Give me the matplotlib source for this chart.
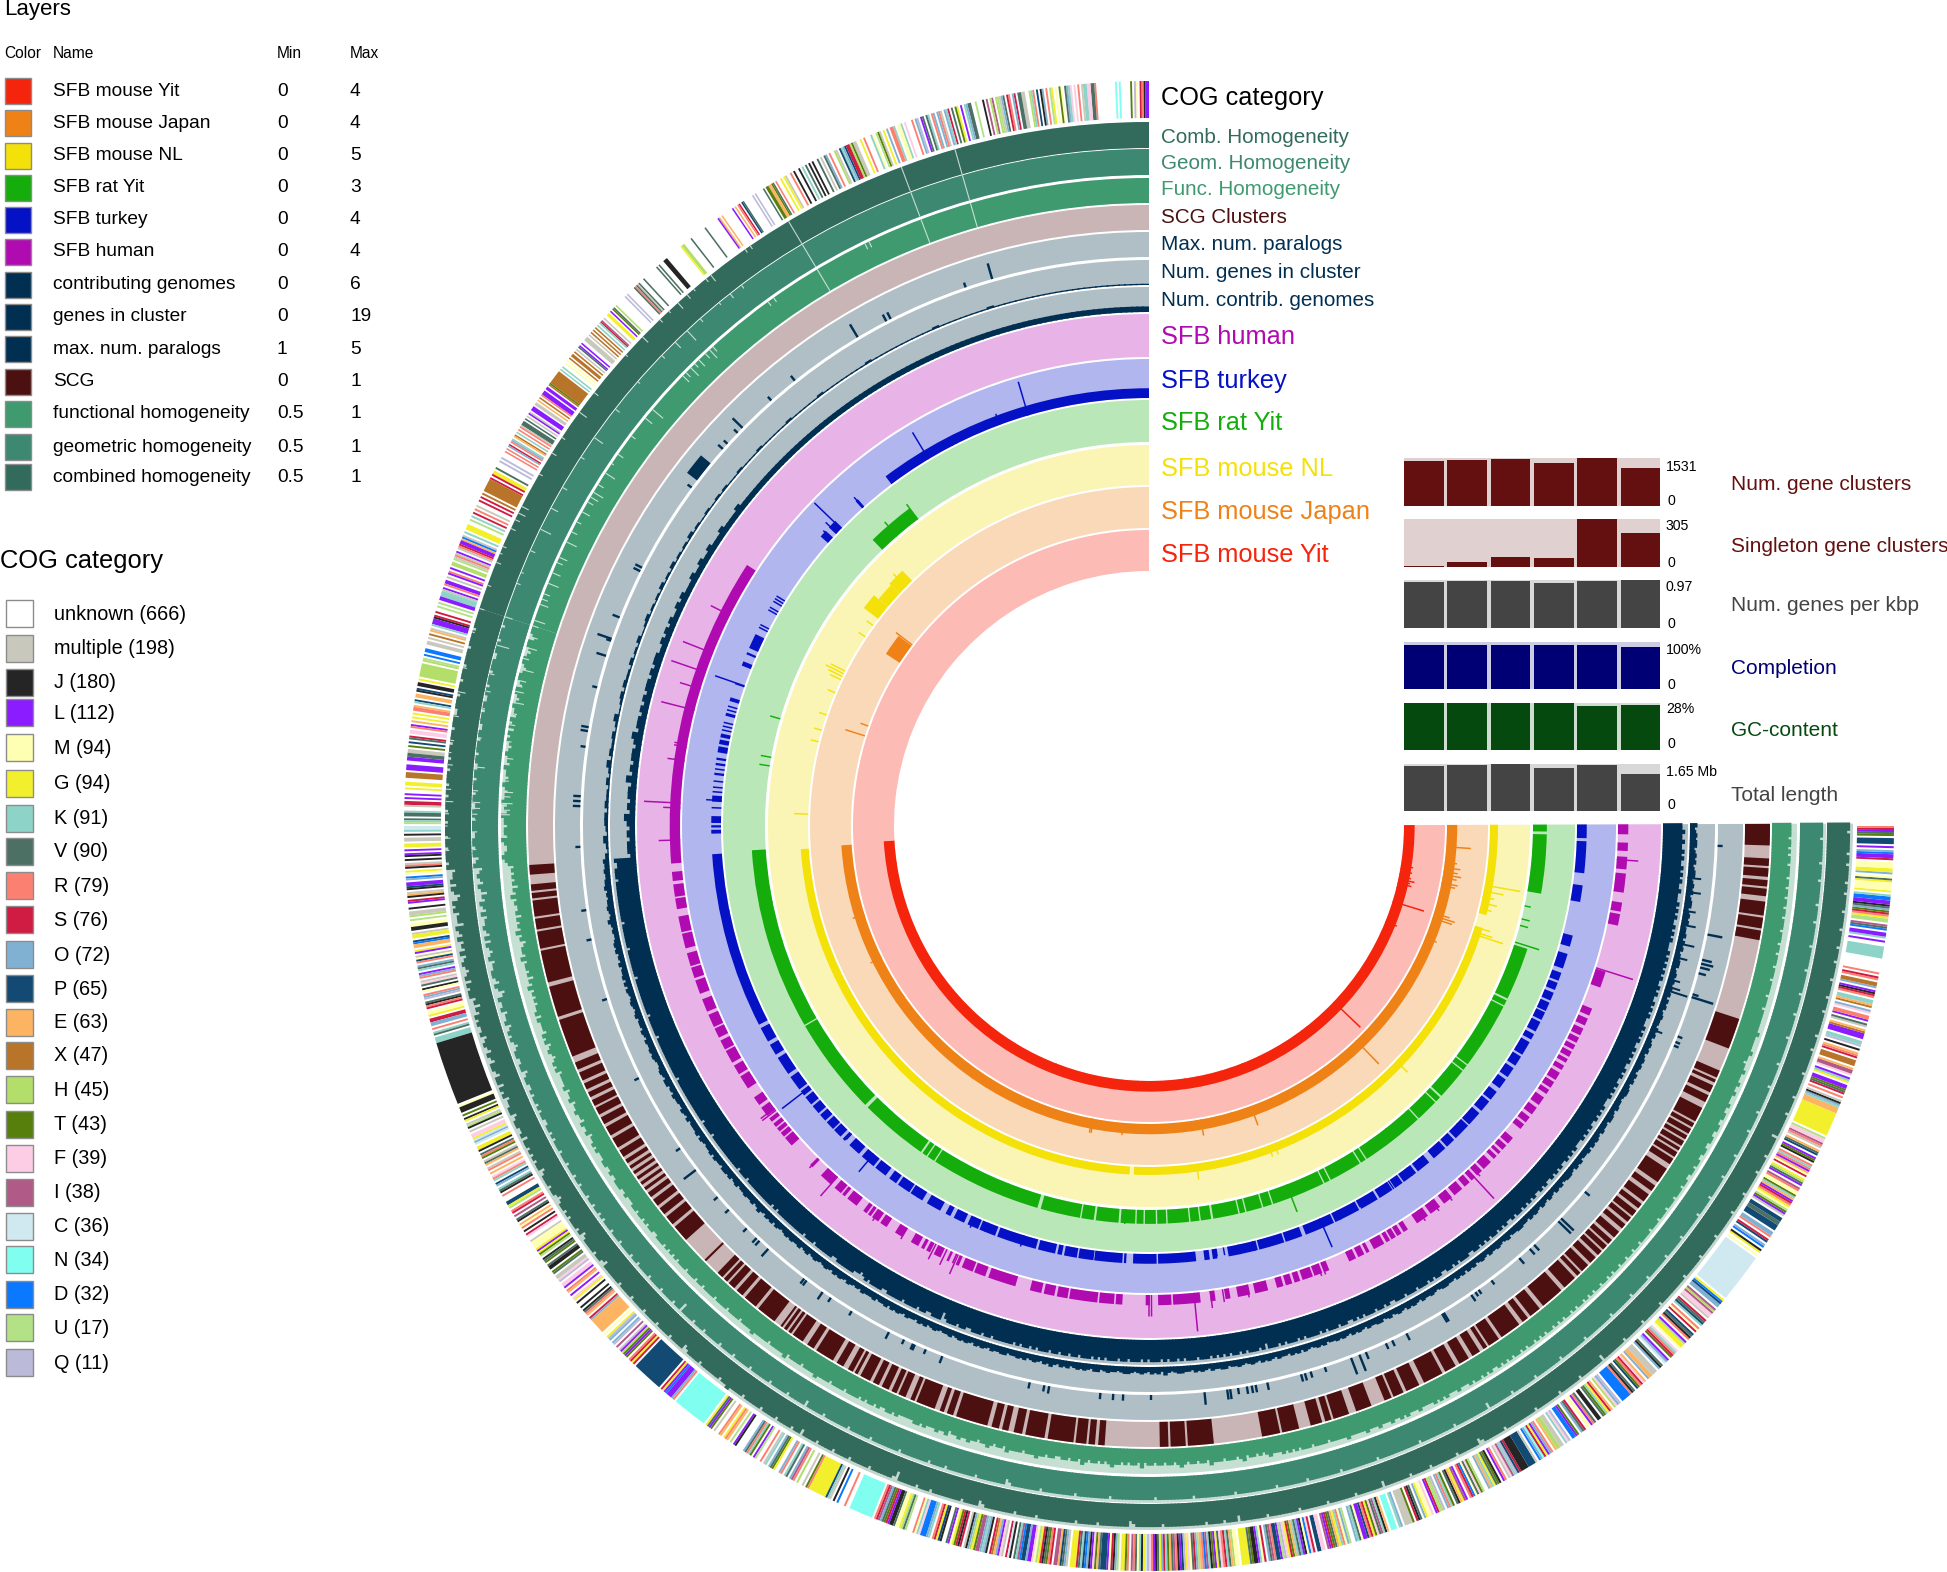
import numpy as np
import matplotlib
matplotlib.use('Agg')
from matplotlib import pyplot as plt
from matplotlib.patches import Rectangle

plt.rcParams['font.family'] = ['Liberation Sans', 'DejaVu Sans']

W, H = 1947, 1572
CX, CY = 1149, 826

# legend tables
layer_names = ['SFB mouse Yit', 'SFB mouse Japan', 'SFB mouse NL', 'SFB rat Yit', 'SFB turkey', 'SFB human',
               'contributing genomes', 'genes in cluster', 'max. num. paralogs', 'SCG',
               'functional homogeneity', 'geometric homogeneity', 'combined homogeneity']
layer_min = ['0', '0', '0', '0', '0', '0', '0', '0', '1', '0', '0.5', '0.5', '0.5']
layer_max = ['4', '4', '5', '3', '4', '4', '6', '19', '5', '1', '1', '1', '1']
layer_colors = ['#f5240c', '#ef8217', '#f4e109', '#14ad0c', '#0411c4', '#b00bb0', '#012f52', '#012f52', '#012f52',
                '#4d1010', '#3f9a70', '#3d8870', '#326b5b']

cog_keys = ['.', 'm', 'J', 'L', 'M', 'G', 'K', 'V', 'R', 'S', 'O', 'P', 'E', 'X', 'H', 'T', 'F', 'I', 'C', 'N', 'D', 'U', 'Q']
cog_names = ['unknown (666)', 'multiple (198)', 'J (180)', 'L (112)', 'M (94)', 'G (94)', 'K (91)', 'V (90)', 'R (79)',
             'S (76)', 'O (72)', 'P (65)', 'E (63)', 'X (47)', 'H (45)', 'T (43)', 'F (39)', 'I (38)', 'C (36)',
             'N (34)', 'D (32)', 'U (17)', 'Q (11)']
cog_colors = ['#ffffff', '#c8c8bc', '#252525', '#8a1cff', '#ffffb3', '#f2f02c', '#8dd3c7', '#4d7065', '#fb8072',
              '#d01c42', '#80b1d3', '#134a74', '#fdb462', '#b8752a', '#b3de69', '#567f0c', '#fccde5', '#b05a87',
              '#d0e8ef', '#80fff0', '#0a78ff', '#b2e285', '#bcbad9']

# COG category along the arc, one string per 30 degrees, read left to right as the angle grows
cog_sections = [
    'LLJRS.MQ.T.....N.N..........RVVFFKKm.R.F.FKOV.MT.M.GU.R.OJ.P.RKH..mmVV.SO.RS.VOmUH.IH.I.J...U..VVOK.L.GT.V.SKO.mRO.OR.KV.VL.QO.R...F.KMM.KRR.O.G.mTU.MK...R.G..mmTHSSPOKP.mH..R.OV.m.V..J.J.V.K.J..J.R..mG.G..',
    'R.VTEETT.V.....Q.Q......VP.SR.E.L.......E.EL.........V..........V.....HHG...........JJJ...V.V..........V...VmVRV.....Q.Q.......H.VT.L.GG..m.ISK.K.X.X.X.m.mmm..L.LV.m.X.XX.X.M.M..K.K.XXXXXXXXXTX.LL.LLLR.X.E.mm.LLL.mL.m.V.VVVmR.R.K.XE.KOR.SO.R.R.',
    '..Q.Q...V.GGS.SXXXXXXX.X.S.S..m.R.S.K.U..GGG.K.mDELLSRm.LmRmU.HH.L.RL.m.LLR.LmKKKLL.U.U..S.SJLLLK.mE.X.m.mm..DD.D.UH.HHHHHHH.G.JJ.PJ.EE.PK.ERR.G.G.E.LR.FF.SV.P.T.mmVVLL..LLL.XXX..GG.G..L.L.SSm..KVV.VKU.',
    'CCK.J.mm.GG.L.LJ.J.mRJ.GM.DO.LLPJ.mEJ.SL..J.mmH.U.MMJJ.mGG.PDEE.GL.mMPR.OVK.LOR.mFV.JM.ROQ.VJRS.MMG.SSOO.R.KV.KKKJJJJJJJJJJJJJJJJJJJJJJJJJJJJJJJJJ.MJJJ.T.JG.mUJ.m.FFGCOC.GGJ.VRT.mVE.mR.E.FRK.PO.KVJ.R.',
    '..PPGU.RS.I.VJ.EMR.J.SF..mMMMMGLGTU.JVT.VJJ.TV.mmFQ.FFL.RE.L.FG.J..J.JVRE.SOEEEEEEEE.M.GQO.OQ.I.mLHTLT.RSGS.PPPPPPPPPPPPPPPP.SGLDLLLOR.NNNNNNNNNNNNNNNNNN.GVLT.m..RE.GRE.U.LJ....OVRKT.LU..R.mK.OVTG.',
    '.OR.KV.OIR.H..m.TRGGGGGGGGGPKm.J.D...R..NNNNNNNNNNNN.RSIOVTSLJJVMMGUVU...RMKFDDDOK.RSGPJ..VLMGTSJS.mJOHGTIIOKOJ.SXEOLFm.SCJ.VKIDPPOLLFMUGSJVTRS.IIEPVOm.GGGSVKPDOJLFTEVPPPLMSJOU.GGTR.IRVMKJGCQ',
    'FRLJVGOSKTEVIRJLPQGFMVSOUERDIKJTLGVFRSKVEHMM.GGGGVTJJLKMS.OVIRPPLUQFGSTEKVOLJMDFS.PPFF.ILSTVEGKRMOU..OKVMLLPRSGTFVIKJE.NNN.KO.mmmmT.SJV.OGMMF.LSUHQ.ORKT.VJEGIL.RSDMVFTU..OEKGVTJ.LR.mFIKQPS',
    'JJJJPPPPm.DONSGLOR.EHHmm.KFQ.DDLT.OVS.MMLRV.JJ.VTKGSE.HFOQ.DDDDDRJV.PTRSFE.OEEmmm.OJV.COL.TSRKF.MGGUL.RJVP.SMR.KPVS.mFFIHI.OOPDG.CCCCCCCCCCCCCCCCCCCCCCCC.M.GJ.DO.PS.ROO.PPPVVPP.mLTUMGRSLE',
    'KTMMRI.LVHG.SMELRKR.JTL.PVE.mRIFFU.GGGGGGGGGGGGEEEKOJm.R.SVTLL.GKL.FIIE.XXX.SRE.J.QKK.LLLXE.mV.LRR.FO.XEKK.RSJL.OXX.RS.R.......KKKKKK..L.KLL.DVI.UUGRSTOVJLLDDK.GMMMMGVM.OGGMMM.SLLDO.L.PPP.TVLSR'
]
cog_start = 0.0
cog_span = 30.0

# homogeneity outlines, 72-93.5 deg first, d/9 of the ring is filled
comb_fringe = '9999989999899998999899989998899989998999899899989989998998999899899989'
geom_fringe = '9989998999889998999899889989998899899989988998999899889989998899899789'
func_fringe = '9987998789987899879987898879897989878988798878987889787988788798778987'
comb_profile = (
    '677868756878677587686768678767868788675768787786787687688768868786'
    '778867887786887878788678887887678878788878678888788768888887888878'
    '888788887888878888678888788888878898888788888788887888878868888788'
    '887888878888878888887588888788878888888878888678888888878888878888'
    '888888788888788888888678888888788888888888788887888688888887888888'
    '887888888878888888788888886888888878888878888888788888867888888788'
    '888888878888888788888878888888688888887888888788888878888888887888'
    '888788888878888888788888788888878888788888688888878888788888878888'
    '887888788888878887888878888788878888788887888878878888788788888788')
geom_profile = (
    '678768757687686778768687678677887687568778677867878767887788678877'
    '878878788778878788878887888788788878878878788878887888878878888788'
    '887888878858888788878888878888788888788888878888878888868888878888'
    '888788888878888888878888888878888788888888788888888678888888878888'
    '888887888888888788888888888878888888888788888888888788888888888788'
    '888888788888888878888888888788888888888878888888888788888888886888'
    '888878888888788888888788888888788888888878888888788888878888888788'
    '888878888888788888788888878888887888888878888878888888788888878888'
    '888788888878888878888887888888788888878888788888878888788888878888')
func_profile = (
    '565656465756556465657564566575665646575656566757666576756765676756'
    '666756675667665766756676766677667667776676667767767677667776767676'
    '777677767767777677776777767777877777677777867777677778777767777677'
    '776767767667767666667767666766756676676656676566576666566676656655'
    '665665765665656766565665756656656656765665665766656665675665656766'
    '676767677767777677777877777877787778778787778777787878777877787887'
    '878778787878878788787878878787887878878787887887878878878878878888'
    '788878887888788878877887887788778877887788778777877877787767787777'
    '787777777677767777677767776776777677767767767767767776776767767777')

# thin pale notches on the conserved part of the homogeneity rings: angle, kept fraction
comb_notch_a = [16, 20.6, 30.8, 34.5, 35, 38.5, 39, 40.3, 41, 42, 43, 44, 46, 48, 52, 54, 56.5, 58, 60, 63, 63.6, 64.2, 65,
                66.6, 67.2, 68, 70, 72, 74, 77, 79, 81, 83, 84, 85, 87, 88, 89, 90, 91, 92]
comb_notch_k = [0, 0, 0, .85, .85, .7, .85, .9, .8, .7, .9, .85, .7, .9, .8, .65, .85, .8, .85, .7, .7, .8, .8, .85, .9, .8, .85,
                .8, .9, .85, .7, .8, .85, .9, .8, .8, .7, .85, .9, .8, .85]
geom_notch_a = [16, 20.6, 30.8, 37, 38.2, 39.4, 41.5, 43, 44.4, 46, 49, 52, 55, 57, 60, 62, 64, 66, 68, 69, 72, 74.5, 77, 78.5,
                80, 82.5, 85, 87, 88, 88.5, 89, 89.5, 90.5, 92]
geom_notch_k = [0, 0, 0, .85, .8, .9, .85, .5, .7, .85, .9, .8, .6, .85, .8, .7, .55, .8, .9, .85, .7, .5, .8, .8, .9, .85, .6,
                .8, .7, .7, .8, .85, .8, .85]
func_notch_a = [16, 20.6, 30.8, 25.6, 26, 35.4, 36, 42.3, 42.7, 43.2, 44, 44.5, 45, 45.6, 46, 50, 51, 53, 55, 56, 57, 58.2, 59,
                59.5, 60, 61, 62, 63, 64, 65.5, 66, 67, 68, 69, 69.5, 70, 71.5, 72, 73, 74, 74.4, 75, 76, 77, 77.5, 78, 79, 80,
                81, 82.5, 84, 86, 87, 87.4, 88, 88.6, 89, 90, 91, 92]
func_notch_k = [0, 0, 0, .75, .75, .8, .8, .75, .55, .75, .65, .8, .55, .75, .65, .45, .65, .8, .75, .9, .55, .75, .55, .65, .75,
                .65, .8, .75, .55, .65, .75, .65, .55, .75, .75, .65, .55, .75, .65, .55, .75, .75, .45, .65, .75, .65, .55, .75,
                .75, .8, .65, .75, .55, .65, .55, .65, .65, .75, .75, .8]

scg_starts = [93.6, 95.4, 96.2, 96.9, 98.6, 99.8, 101.6, 105, 108.2, 112.4, 113.4, 114.5, 115.4, 116.2, 117, 118, 119, 120.2,
              121.5, 122.5, 123.2, 123.8, 124.4, 125, 125.6, 126.2, 127, 128, 129, 130.2, 134.3, 136, 136.8, 137.4, 138.4,
              139.4, 141, 143.6, 144, 144.5, 145, 146.6, 147.6, 149.8, 151, 151.7, 152.3, 153.6, 154.5, 155.5, 156.2, 157.4,
              158, 160.3, 161, 161.9, 165.3, 166.3, 167.4, 168.5, 170.6, 173.2, 174.4, 175.3, 181, 182, 183.6, 190.5, 192.4,
              195.1, 196.5, 197.3, 199.5, 202.3, 203.2, 204.5, 206.3, 208.5, 210, 211.4, 212.6, 213.2, 214.6, 217, 217.9,
              219.4, 222, 223.6, 224.2, 225.3, 226.3, 227, 227.7, 228.5, 229.6, 230.4, 231.1, 232, 232.8, 234, 235, 237,
              237.8, 238.5, 239, 239.7, 240.3, 241, 241.6, 243.6, 244.6, 245.6, 246.1, 249, 259.4, 260.5, 261.7, 263.5, 264.4,
              265.3, 266.3, 268.2]
scg_ends = [94.5, 96, 96.7, 98.4, 99.6, 101.4, 104.6, 107.9, 111.8, 113.1, 114.2, 115.1, 115.9, 116.8, 117.7, 118.7, 119.9,
            121.2, 122.2, 122.9, 123.5, 124.1, 124.7, 125.3, 125.9, 126.7, 127.7, 128.7, 129.9, 131.8, 134.5, 136.6, 137.2,
            138.1, 139.1, 140.7, 142.9, 143.8, 144.3, 144.8, 146.1, 147.3, 149.4, 150.5, 151.5, 152, 153.3, 154.2, 155.2,
            156, 156.9, 157.8, 159.8, 160.7, 161.6, 164.9, 166, 166.9, 168.2, 170.3, 173, 174.2, 175, 175.9, 181.8, 183.4,
            186, 192.2, 194, 196.2, 197.1, 198.8, 201, 203, 204.2, 205.8, 208.2, 209.6, 211, 212.2, 213, 214.3, 216.6, 217.6,
            219, 221.6, 223.3, 224, 225, 226, 226.8, 227.5, 228.2, 229.2, 230.1, 230.9, 231.7, 232.5, 233.6, 234.6, 236.5,
            237.6, 238.3, 238.8, 239.5, 240.1, 240.8, 241.4, 243, 244.3, 245.3, 245.9, 246.8, 251.9, 260.3, 261.5, 263, 264.2,
            265, 266.1, 267, 270.2]

# max. num. paralogs spikes: angle, fraction of ring
par_a = [16, 18.8, 27, 27.5, 30.8, 38.5, 41.6, 45.6, 46.3, 47.8, 48.5, 53.5, 63, 63.4, 68.5, 70.8, 71,
         72.6, 75.9, 80, 80.4, 82, 87, 87.5, 88, 92.1, 98.5, 101.5, 107.7, 116.3, 124.5, 127.2, 130.7, 132.4, 135, 136.4, 136.8,
         138, 142.7, 143, 145, 146, 148.5, 152.8, 154.5, 155.5, 155.7, 156.9, 158.7, 167.9, 169.4, 169.9, 175.1, 176.4, 177.4,
         180.2, 185.6, 187.9, 188.2, 189, 189.9, 190.4, 190.8, 192, 195.5, 195.9, 196.5, 198, 200.8, 201.7, 202.4, 204.6, 205.3,
         206.9, 211, 211.2, 214.5, 215, 215.4, 217, 220.6, 222, 222.6, 226, 226.4, 230, 247.3, 247.7, 248.3, 252.5, 252.8, 255,
         255.6, 256, 256.4, 259, 268]
par_h = [.65, .2, .3, .3, .6, .25, .2, .55, .2, .2, .25, .2, .3, .3, .3, .6, .2, .4, .2, .3, .3, .2, .3, .3,
         .3, .2, .2, .2, .2, .2, .2, .6, .2, .2, .2, .25, .25, .4, .25, .25, .35, .2, .2, .3, .2, .25, .25, .2, .3, .25, .25,
         .3, .25, .25, .25, .2, .5, .4, .4, .25, .3, .3, .3, .3, .3, .3, .25, .2, .7, .7, .3, .25, .25, .3, .4, .4, .3, .2, .2,
         .2, .3, .3, .3, .7, .7, .25, .2, .2, .2, .9, .25, .3, .4, .5, .4, .6, .2]
par_block_start = [50.4]
par_block_end = [52.6]
par_block_h = [.5]

# genes in cluster and contributing genomes outlines
genes_top = ('1111111111111111111111111112111111111211111111111121111111112111111211111121111211'
             '1212112112131212131213121213211312131223132114213223142131223133214213')
genes_bot = ('544544556454556545754544565645464556464654565456455465465565654456546645465'
             '544654645556465455646554665645645565564575465646545656556456456545654656546'
             '545465556455646565465546564565455645656546565465566455656456546575465645656'
             '546645655456654565465647545665546565465566455654565465654655465646545656455'
             '656546565465566456456546565465565456655465646564565465565456455665546565465'
             '465465645665465645564656546554665465545665465645656546565465645565465646565'
             '656546655465646554656546654656546654656546656546')
genes_spike_a = [248, 252.4, 252.8, 253.6, 256, 257.5, 259.5, 261, 263, 264.5]
genes_spike_h = [.5, .95, .6, .5, .55, .7, .6, .5, .6, .55]
contrib_top = ('2222222222222222222222222222222222222222222222222222222222222222222222222222222222'
               '2222322223222322322322232322323232233232332323233243233232423323243232332')
contrib_bot = ('877888788888888888878888888788888888788888888888788888878888888888888788888'
               '888888888788887888888888888788878888888888787888888888878887888888778888887'
               '767878888778888878888788778885788878877888788788888878788787888788788788788'
               '878787888788788878788878788787888788878787878878788878688878788878788887878'
               '887887787878887887877888788878887878877887878887788787878878787787887878787'
               '787877878787787878777878787787878777878787787877878787787878777878787787877'
               '878787878777878787787878777877878787787877877877')

# dark base bars of the genome rings (start, end in degrees) and their outward spikes
human_segs = [(57, 94.5), (95.5, 96.6), (97, 98.5), (98.7, 100), (100.9, 102.8), (103, 104.8), (105.4, 107), (107.2, 108.5),
              (108.8, 110.5), (111.2, 112.8), (113.2, 114.8), (115, 116.2), (116.6, 117.8), (118, 119.6), (120, 121.2),
              (121.5, 123.2), (124.5, 125.6), (126, 127.2), (127.6, 128.1), (128.4, 128.9), (129.1, 129.6), (129.8, 130.4),
              (130.6, 131.8), (135, 135.4), (136.8, 138.4), (139, 140), (140.2, 140.6), (141, 142.4), (143.4, 143.9),
              (144.1, 144.5), (144.7, 145.6), (145.9, 146.8), (148, 149), (150.2, 151.2), (151.6, 152), (152.3, 152.8),
              (153.3, 154.2), (155, 155.3), (155.7, 155.9), (156.2, 156.6), (157, 158.4), (158.6, 160), (160.4, 163.8),
              (165.6, 167), (167.3, 168.6), (168.9, 170.2), (170.4, 173.8), (174, 175.8), (176, 176.8), (179.6, 180.1),
              (181.1, 182.7), (182.9, 186.2), (187.4, 188), (189.2, 189.8), (190.7, 192.2), (192.8, 194.4), (195.5, 196.3),
              (196.6, 197.4), (197.7, 198.4), (198.7, 200), (200.2, 201.2), (201.5, 202.1), (204.7, 205.6), (205.9, 206.7),
              (207, 207.4), (208, 209.4), (209.7, 210.2), (210.4, 211), (211.2, 211.8), (212.1, 212.7), (214, 215.6),
              (216, 217.4), (218, 219.2), (219.6, 220.8), (221.2, 222), (222.3, 222.9), (223.2, 224), (224.3, 225.5),
              (226, 226.5), (226.8, 227.2), (227.5, 228.2), (228.5, 229.4), (230.8, 231.5), (231.8, 232.6), (233, 234),
              (234.4, 235.5), (236, 236.6), (236.9, 237.7), (238, 239), (239.4, 240), (240.4, 240.9), (241.2, 241.9),
              (242.2, 242.8), (243.1, 243.8), (244.1, 245), (245.4, 246.3), (246.7, 247.6), (250.3, 252.3), (258, 259.4),
              (259.7, 260.8), (262, 264.3), (264.8, 266.3), (267, 268), (269, 270.2)]
human_sp_a = [63.3, 68.4, 70.9, 73, 75.7, 80, 80.3, 82, 87.2, 87.8, 91.7, 127, 127.3, 135.2, 138.4, 145, 149, 153, 154.5, 156,
              180, 180.3, 185.5, 187.5, 189, 192, 201, 201.5, 215, 217, 219, 222.8, 223.4, 252.4, 265.9]
human_sp_h = [.5, .75, .85, .5, .8, .3, .3, .4, .85, .4, .5, .4, .4, .3, .6, .3, .3, .4, .4, .5, .5, .5, .9, .4, .3, .3, .3, .3,
              .3, .3, .3, .9, .3, .9, .5]

turkey_segs = [(0, 37), (41.7, 42.1), (45.8, 47), (47.6, 48.6), (58.2, 58.4), (58.6, 58.8), (59, 59.2), (59.9, 60.1), (60.3, 60.5),
               (62.5, 62.7), (62.9, 63.1), (64, 66), (66.6, 66.9), (67.9, 68.5), (70.9, 71.1), (72.9, 73.4), (74, 74.2), (74.5, 74.7),
               (75, 75.4), (76.2, 76.4), (76.7, 76.9), (77.2, 77.4), (77.8, 78.3), (78.6, 79.2), (79.5, 80.3), (81, 81.3), (81.7, 82),
               (82.4, 82.6), (83, 83.3), (84, 84.2), (84.8, 85), (85.4, 85.6), (86, 86.8), (87.5, 87.7), (88.7, 89.6), (89.9, 90.2),
               (90.5, 91),
               (93.7, 117), (117.5, 119.5), (120, 121.5), (122, 124.5), (125, 127), (127.3, 128), (128.3, 129.5), (129.8, 131),
               (131.3, 132.3), (132.6, 133.8), (134, 135.2), (135.6, 136), (136.8, 138.5), (139, 141), (141.3, 143),
               (143.6, 144.7), (145, 146.8), (147, 148.8), (149.5, 151.5), (152.3, 153), (153.5, 155), (155.5, 157),
               (157.2, 159.4), (159.7, 165), (165.3, 167.6), (167.9, 168.5), (168.8, 170.5), (170.7, 172.7), (172.8, 176.5),
               (176.7, 177), (177.9, 181), (181.2, 186.2), (187.3, 188), (188.4, 189), (190.5, 194.4), (194.6, 198), (198.2, 200.5),
               (201, 205), (205.2, 208.7), (209, 211.5), (211.8, 213.8), (214.2, 215.4), (215.6, 217.6), (217.9, 219.8),
               (220.6, 222.6), (222.9, 224.2), (224.5, 226.8), (227, 229), (229.4, 231), (231.3, 232.6), (233.2, 234.6),
               (235, 236.4), (236.8, 238.2), (238.5, 240.4), (240.8, 241.6), (242, 243.4), (243.7, 244.8), (245, 246.2),
               (246.5, 247.6), (248, 249), (249.3, 250.4), (251, 253), (254, 255.5), (260, 262.2), (263.8, 268), (268.4, 270.2)]
turkey_sp_a = [16.4, 20.4, 26.7, 27.3, 31, 41.9, 46, 46.8, 47.8, 70.9, 86.6, 101.4, 127.6, 136, 140, 148, 156, 158, 163, 189,
               190, 192, 194, 203.5, 206, 209, 214, 217, 219, 226, 239]
turkey_sp_h = [.9, .3, .2, .2, .8, .35, .95, .4, .3, .8, .4, .1, .9, .2, .6, .25, .3, .25, .3, .2, .2, .25, .25, .8, .25, .2, .25, .25,
               .2, .2, .15]

rat_segs = [(37, 44), (93.5, 120), (120.2, 134.5), (135, 145), (145.3, 146), (146.2, 147.3), (147.5, 163.7), (164.2, 170), (170.2, 172),
            (172.3, 175.6), (175.9, 178), (178.2, 179.2), (179.4, 181), (181.2, 182.5), (182.7, 185.8), (186, 187.3), (187.5, 189),
            (189.3, 193), (193.2, 194), (194.2, 196.5), (196.7, 198), (198.2, 206), (206.2, 207), (207.2, 212), (212.2, 213), (213.2, 222.5),
            (222.7, 226), (226.2, 227), (227.3, 232), (232.2, 233), (233.2, 243), (243.2, 244), (244.3, 252), (260.2, 268.8), (269.2, 270.2)]
rat_sp_a = [37, 41, 73.8, 79.7, 81, 101.4, 107.3, 136.7, 137, 138, 158.6, 176.5, 195, 201, 215, 218, 222, 225, 230, 252.4, 255, 256, 258]
rat_sp_h = [.45, .45, .25, .25, .25, .25, .25, .25, .25, .2, .25, .35, .25, .7, .2, .2, .2, .2, .2, .6, .2, .2, .15]

nl_segs = [(44, 47), (47, 50), (50, 52.6), (93.8, 176.8), (177.5, 253), (255.2, 270.2)]
nl_seg_h = [.35, .3, .45, .2, .2, .2]
nl_sp_a = [45.4, 48, 54, 56.3, 63, 63.5, 64, 64.6, 67, 71, 73.7, 75.7, 88, 107.5, 132.5, 134.8, 142.8, 148, 158, 167.8, 188, 189,
           196, 200.5, 201.5, 217.6, 226.4, 251.6, 252, 252.8, 256, 257, 258, 259, 260]
nl_sp_h = [.45, .3, .2, .2, .4, .5, .4, .3, .2, .2, .2, .2, .35, .15, .15, .15, .15, .15, .15, .2, .4, .2, .15, .3, .3, .15, .4, .8,
           .5, .4, .3, .4, .3, .5, .9]

japan_segs = [(52.8, 56.8), (93.6, 270.2)]
japan_seg_h = [.4, .25]
japan_sp_a = [52.6, 70.4, 72.4, 107.3, 116.2, 124.8, 142.9, 145.1, 147.9, 155.4, 156.2, 158, 169, 169.3, 175, 188, 189, 190, 196, 200,
              211, 216, 224, 248, 252, 252.5, 253, 257, 258.5, 259, 260, 260.6, 261.2, 262, 263, 266]
japan_sp_h = [.5, .2, .5, .3, .3, .25, .25, .25, .25, .15, .2, .2, .35, .35, .3, .25, .2, .4, .2, .5, .2, .2, .8, .3, .5, .55, .4, .2,
              .35, .4, .35, .45, .35, .4, .3, .6]

yit_segs = [(93.3, 270.2)]
yit_sp_a = [98.4, 107.7, 147.1, 148.3, 155.1, 158.7, 177.5, 188, 190.2, 191, 196.3, 198.5, 201.4, 205.5, 216.7, 218, 226.4, 248, 252.8,
            256, 257, 257.5, 258, 258.6, 259.2, 259.8, 260.4, 261]
yit_sp_h = [.15, .15, .2, .2, .25, .15, .25, .15, .2, .15, .2, .15, .25, .2, .25, .25, .9, .3, .8, .25, .35, .3, .4, .3, .25, .3, .2, .3]

# bars next to the rings
bar_max = [1531, 305, 0.97, 100, 28, 1.65]
bar_labels = ['Num. gene clusters', 'Singleton gene clusters', 'Num. genes per kbp', 'Completion', 'GC-content', 'Total length']
bar_max_labels = ['1531', '305', '0.97', '100%', '28%', '1.65 Mb']
num_clusters = [1454, 1489, 1520, 1390, 1531, 1229]
singletons = [4, 30, 65, 58, 305, 219]
genes_per_kbp = [0.93, 0.95, 0.956, 0.916, 0.956, 0.97]
completion = [93, 93, 93, 93, 93, 88.7]
gc_content = [27.8, 28, 27.8, 27.6, 26, 26.6]
total_length = [1.59, 1.615, 1.65, 1.52, 1.627, 1.313]

ring_labels = ['COG category', 'Comb. Homogeneity', 'Geom. Homogeneity', 'Func. Homogeneity', 'SCG Clusters', 'Max. num. paralogs',
               'Num. genes in cluster', 'Num. contrib. genomes', 'SFB human', 'SFB turkey', 'SFB rat Yit', 'SFB mouse NL',
               'SFB mouse Japan', 'SFB mouse Yit']

fig = plt.figure(figsize=(W / 100, H / 100), dpi=100)
ax = fig.add_axes([(CX - 750) / W, 1 - (CY + 750) / H, 1500 / W, 1500 / H], projection='polar')
ax.set_theta_zero_location('N')
ax.set_theta_direction(1)


def bg(r0, r1, color):
    ax.bar(np.radians(135.1), r1 - r0, width=np.radians(270.2), bottom=r0, color=color, linewidth=0)


def spans(starts, ends, r0, height, color):
    starts = np.array(starts, dtype=float)
    ends = np.array(ends, dtype=float)
    ax.bar(np.radians(starts), height, width=np.radians(ends - starts), bottom=r0, align='edge',
           color=color, linewidth=0)


def spikes(angles, fracs, r0, rh, color, px=1.5):
    # width given in pixels so the inner rings keep visible ticks
    ax.bar(np.radians(angles), np.array(fracs) * rh, width=px / (r0 + rh / 2), bottom=r0, color=color, linewidth=0)


def profile(text, a0, a1, r0, rh, color, scale=1 / 9):
    vals = np.array([int(c) for c in text]) * scale
    step = (a1 - a0) / len(vals)
    # a little overlap hides seams between neighbours
    ax.bar(np.radians(a0 + step * np.arange(len(vals))), vals * rh, width=np.radians(step * 1.3), bottom=r0,
           align='edge', color=color, linewidth=0)


# COG ring, runs of one category become one bar
cog_lookup = dict(zip(cog_keys, cog_colors))
for i, section in enumerate(cog_sections):
    step = cog_span / len(section)
    j = 0
    while j < len(section):
        k = j
        while k + 1 < len(section) and section[k + 1] == section[j]:
            k += 1
        if section[j] != '.':
            ax.bar(np.radians(cog_start + i * cog_span + j * step), 37, width=np.radians((k - j + 1) * step), bottom=708,
                   align='edge', color=cog_lookup[section[j]], linewidth=0)
        j = k + 1

# homogeneity rings
homog = [(678, 704, '#326b5b', '#c3d5cf', comb_fringe, comb_profile, comb_notch_a, comb_notch_k),
         (651, 677, '#3d8870', '#c4dcd3', geom_fringe, geom_profile, geom_notch_a, geom_notch_k),
         (623, 648, '#3f9a70', '#c5e0d3', func_fringe, func_profile, func_notch_a, func_notch_k)]
for r0, r1, dark, pale, fringe, prof, notch_a, notch_k in homog:
    bg(r0, r1, pale)
    spans([0], [72], r0, r1 - r0, dark)
    profile(fringe, 72, 93.5, r0, r1 - r0, dark)
    for a, k in zip(notch_a, notch_k):
        ax.bar(np.radians(a), (r1 - r0) * (1 - k), width=1.1 / r0, bottom=r0 + (r1 - r0) * k,
               color=pale, linewidth=0)
    profile(prof, 93.5, 270.2, r0, r1 - r0, dark)

# SCG
bg(596, 621, '#c9b5b5')
spans(scg_starts, scg_ends, 596, 25, '#4d1010')

# paralogs
bg(569, 594, '#b0bec6')
spikes(par_a, par_h, 569, 25, '#012f52', px=2.4)
spans(par_block_start, par_block_end, 569, par_block_h[0] * 25, '#012f52')

# genes in cluster
bg(541, 566, '#b0bec6')
profile(genes_top, 0, 93.5, 541, 25, '#012f52', scale=0.05)
profile(genes_bot, 93.5, 270.2, 541, 25, '#012f52', scale=0.05)
spikes(genes_spike_a, genes_spike_h, 541, 25, '#012f52', px=2)

# contributing genomes
bg(514, 539, '#b0bec6')
profile(contrib_top, 0, 93.5, 514, 25, '#012f52')
profile(contrib_bot, 93.5, 270.2, 514, 25, '#012f52')

# genome rings, innermost values come from the lists above
genomes = [(469, 512, '#e8b4e8', '#b00bb0', human_segs, [.24] * len(human_segs), human_sp_a, human_sp_h),
           (428, 467, '#b1b6ee', '#0411c4', turkey_segs, [.25] * len(turkey_segs), turkey_sp_a, turkey_sp_h),
           (384, 426, '#b9e7b7', '#14ad0c', rat_segs, [.33] * len(rat_segs), rat_sp_a, rat_sp_h),
           (341, 381, '#fbf5b5', '#f4e109', nl_segs, nl_seg_h, nl_sp_a, nl_sp_h),
           (298, 339, '#fad9b9', '#ef8217', japan_segs, japan_seg_h, japan_sp_a, japan_sp_h),
           (255, 296, '#fdbbb6', '#f5240c', yit_segs, [.26], yit_sp_a, yit_sp_h)]
for r0, r1, pale, dark, segs, seg_h, sp_a, sp_h in genomes:
    bg(r0, r1, pale)
    rh = r1 - r0
    ax.bar(np.radians([s[0] for s in segs]), np.array(seg_h) * rh,
           width=np.radians([s[1] - s[0] for s in segs]), bottom=r0, align='edge', color=dark, linewidth=0)
    spikes(sp_a, sp_h, r0, rh, dark)

ax.set_ylim(0, 750)
ax.axis('off')


def label(x, y, text, size, color='black', ha='left'):
    fig.text(x / W, 1 - y / H, text, fontsize=size, color=color, ha=ha, va='center')


def swatch(x, y, w, h, color):
    fig.add_artist(Rectangle((x / W, 1 - (y + h / 2) / H), w / W, h / H, transform=fig.transFigure,
                             facecolor=color, edgecolor='#8c8c8c', linewidth=1))


# layers legend
label(4, 10, 'Layers', 16)
for x, t in zip([4, 53, 277, 350], ['Color', 'Name', 'Min', 'Max']):
    label(x, 53, t, 11.2)
layer_y = [91, 123, 155.5, 187.5, 220, 252, 284.5, 316.5, 349, 381.5, 413.5, 447, 477]
for i, y in enumerate(layer_y):
    swatch(4.5, y, 26, 26, layer_colors[i])
    label(53, y, layer_names[i], 13.8)
    label(277, y, layer_min[i], 13.8)
    label(350, y, layer_max[i], 13.8)

# COG legend
label(0, 561, 'COG category', 18.4)
cog_y = [613.4, 648, 682, 712.7, 748, 783, 818, 851, 885.5, 919.5, 954.6, 988.6, 1022, 1055, 1089.5, 1124, 1158, 1192, 1226, 1259.6,
         1294, 1327.6, 1362.7]
for i, y in enumerate(cog_y):
    swatch(6, y, 27, 27, cog_colors[i])
    label(53.5, y + 0.8, cog_names[i], 14.3)

# ring names
ring_y = [98, 137.5, 163.5, 189.8, 217.5, 244.2, 272.2, 300.2, 337.2, 381, 423, 469, 512, 555]
ring_size = [18.3, 14.9, 14.9, 14.9, 14.9, 14.9, 14.9, 14.9, 18.3, 18.3, 18.3, 18.3, 18.3, 18.3]
ring_color = ['black', '#326b5b', '#3d8870', '#3f9a70', '#4d1010', '#012f52', '#012f52', '#012f52', '#b00bb0', '#0411c4', '#14ad0c',
              '#f4e109', '#ef8217', '#f5240c']
for t, y, s, c in zip(ring_labels, ring_y, ring_size, ring_color):
    label(1161, y, t, s, c)

# bars
bar_values = [num_clusters, singletons, genes_per_kbp, completion, gc_content, total_length]
bar_dark = ['#641010', '#641010', '#444444', '#000074', '#05490f', '#444444']
bar_pale = ['#e0d0d0', '#e0d0d0', '#d8d8d8', '#ccccE4', '#cfdcd0', '#d8d8d8']
bar_top = [458.3, 519.3, 580.3, 641.7, 702.7, 764]
label_y = [485, 547, 606, 669, 730, 795]
max_y = [467, 526, 587, 650, 709, 772]
zero_y = [501, 563, 624, 685, 744, 805]
for i, vals in enumerate(bar_values):
    bx = fig.add_axes([1404 / W, 1 - (bar_top[i] + 47.4) / H, 256.4 / W, 47.4 / H])
    bx.bar(range(6), vals, width=0.92, align='edge', color=bar_dark[i], linewidth=0)
    bx.set_xlim(0, 5.92)
    bx.set_ylim(0, bar_max[i])
    bx.set_facecolor(bar_pale[i])
    bx.set_xticks([])
    bx.set_yticks([])
    for sp in bx.spines.values():
        sp.set_visible(False)
    label(1666, max_y[i], bar_max_labels[i], 10.2)
    label(1667, zero_y[i], '0', 10.2)
    label(1731, label_y[i], bar_labels[i], 15, bar_dark[i])

fig.savefig('out.png', dpi=100)
